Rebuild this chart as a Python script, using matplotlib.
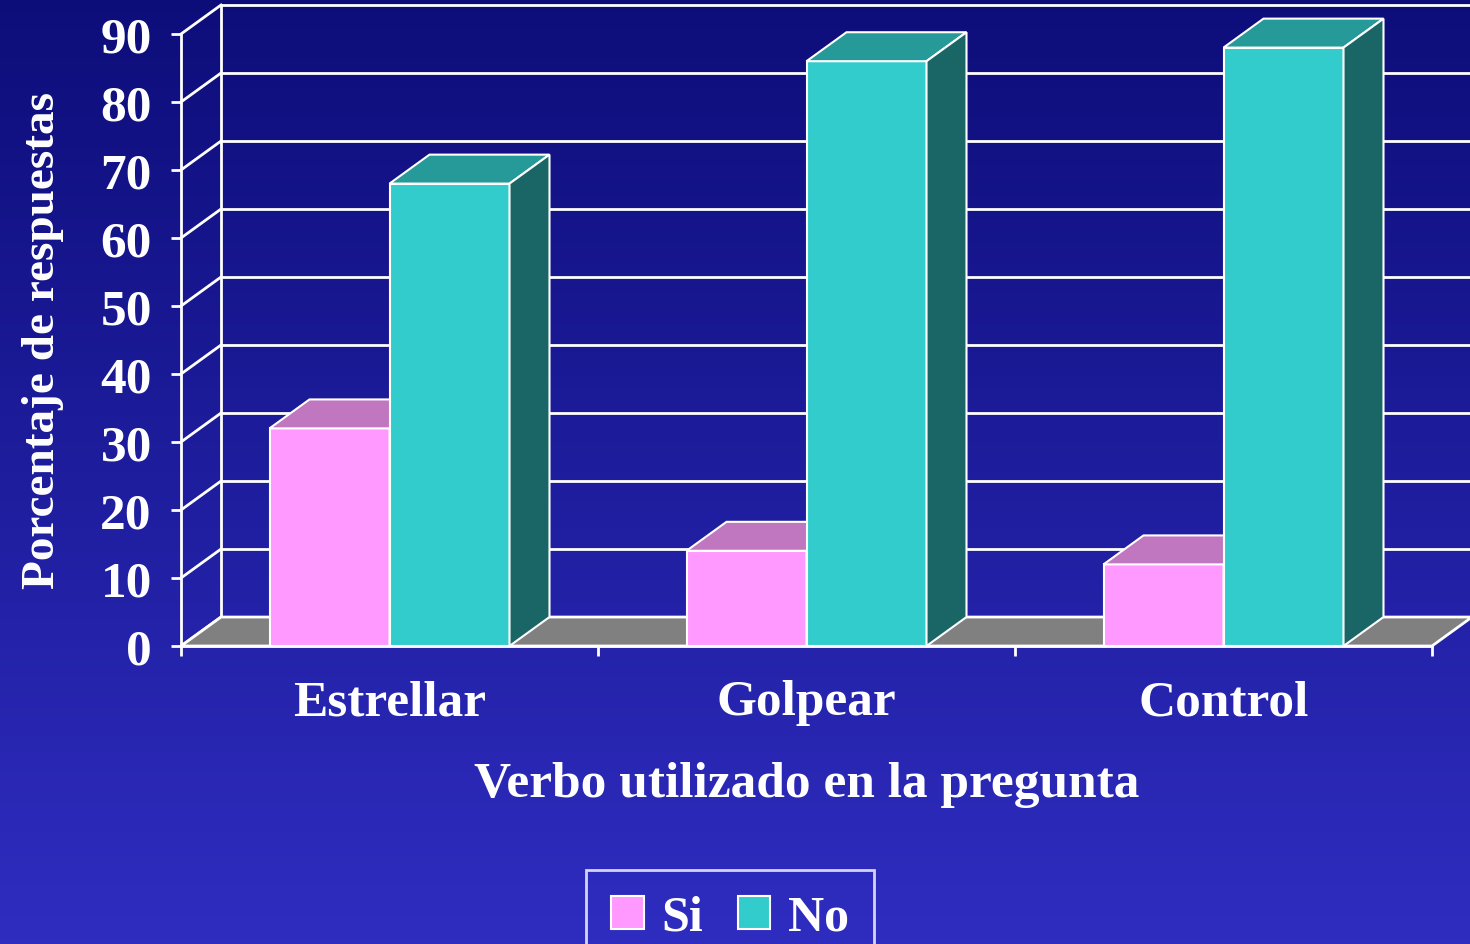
import numpy as np
import matplotlib
matplotlib.use("Agg")
import matplotlib.pyplot as plt
from matplotlib.patches import Polygon, Rectangle

plt.rcParams['font.family'] = ['Liberation Serif', 'DejaVu Serif']
plt.rcParams['font.weight'] = 'bold'

# datos
categorias = ['Estrellar', 'Golpear', 'Control']
si = [32, 14, 12]
no = [68, 86, 88]
series = ['Si', 'No']
yticks = list(range(0, 100, 10))

# colores (frente, arriba, lado)
col_si = ('#FF99FF', '#C077C0', '#804C80')
col_no = ('#33CCCC', '#269999', '#1A6666')

fig = plt.figure(figsize=(14.7, 9.45), dpi=100)

# fondo degradado
bg = fig.add_axes([0, 0, 1, 1], zorder=-10)
top = np.array([13, 13, 122]) / 255
bot = np.array([47, 45, 192]) / 255
t = np.linspace(0, 1, 256)[:, None]
grad = top[None, :] * (1 - t) + bot[None, :] * t
bg.imshow(grad[:, None, :], aspect='auto', extent=[0, 1, 0, 1])
bg.axis('off')

ax = fig.add_axes([181 / 1470, 298 / 945, 1251 / 1470, 612 / 945])
ax.set_xlim(0, 3)
ax.set_ylim(0, 90)
ax.patch.set_alpha(0)

# profundidad 3D en unidades de datos
dx = 40 / 417
dy = 4.26
w = 120 / 417
lw = 2

# pared del fondo y pared lateral
for v in yticks:
    if v > 0:
        ax.plot([dx, 3 + dx], [v + dy, v + dy], color='white', lw=lw, clip_on=False, zorder=1)
    ax.plot([0, dx], [v, v + dy], color='white', lw=lw, clip_on=False, zorder=1)
ax.plot([dx, dx], [dy, 90 + dy], color='white', lw=lw, clip_on=False, zorder=1)

# piso
ax.add_patch(Polygon([(0, 0), (3, 0), (3 + dx, dy), (dx, dy)], closed=True,
                     facecolor='#808080', edgecolor='white', lw=lw, clip_on=False, zorder=2))


def barra(x0, v, cols, z):
    x1 = x0 + w
    ax.add_patch(Rectangle((x0, 0), w, v, facecolor=cols[0], edgecolor='white',
                           lw=1.5, clip_on=False, zorder=z))
    ax.add_patch(Polygon([(x0, v), (x1, v), (x1 + dx, v + dy), (x0 + dx, v + dy)],
                         closed=True, facecolor=cols[1], edgecolor='white', lw=1.5,
                         clip_on=False, zorder=z))
    ax.add_patch(Polygon([(x1, 0), (x1 + dx, dy), (x1 + dx, v + dy), (x1, v)],
                         closed=True, facecolor=cols[2], edgecolor='white', lw=1.5,
                         clip_on=False, zorder=z))


for i in range(len(categorias)):
    c = i + 0.5
    barra(c - w, si[i], col_si, 3 + 2 * i)
    barra(c, no[i], col_no, 4 + 2 * i)

# ejes
for s in ['top', 'right']:
    ax.spines[s].set_visible(False)
for s in ['left', 'bottom']:
    ax.spines[s].set_color('white')
    ax.spines[s].set_linewidth(lw)
    ax.spines[s].set_zorder(20)

ax.set_yticks(yticks)
ax.set_yticklabels([str(v) for v in yticks], fontsize=37, color='white', fontweight='bold')
ax.tick_params(axis='y', colors='white', length=7, width=lw, pad=14)

ax.set_xticks([0, 1, 2, 3])
ax.set_xticklabels([])
ax.tick_params(axis='x', which='major', colors='white', length=7, width=lw)
ax.set_xticks([0.5, 1.5, 2.5], minor=True)
ax.set_xticklabels(categorias, minor=True, fontsize=37, color='white', fontweight='bold')
ax.tick_params(axis='x', which='minor', length=0, pad=24)

ax.set_xlabel('Verbo utilizado en la pregunta', fontsize=37, color='white',
              fontweight='bold', labelpad=26)
ax.set_ylabel('Porcentaje de respuestas', fontsize=34, color='white',
              fontweight='bold', labelpad=26)

# leyenda
handles = [Rectangle((0, 0), 1, 1, facecolor=col_si[0], edgecolor='white', lw=1.5),
           Rectangle((0, 0), 1, 1, facecolor=col_no[0], edgecolor='white', lw=1.5)]
leg = fig.legend(handles, series, loc='upper center', bbox_to_anchor=(730 / 1470, 1 - 871 / 945),
                 ncol=2, fontsize=36, frameon=True, handlelength=0.65, handleheight=0.65,
                 handletextpad=0.35, columnspacing=0.7, borderpad=0.5, borderaxespad=0,
                 fancybox=False)
leg.get_frame().set_facecolor('none')
leg.get_frame().set_edgecolor('white')
leg.get_frame().set_linewidth(2)
for txt in leg.get_texts():
    txt.set_color('white')
    txt.set_fontweight('bold')

fig.savefig('out.png', dpi=100)
